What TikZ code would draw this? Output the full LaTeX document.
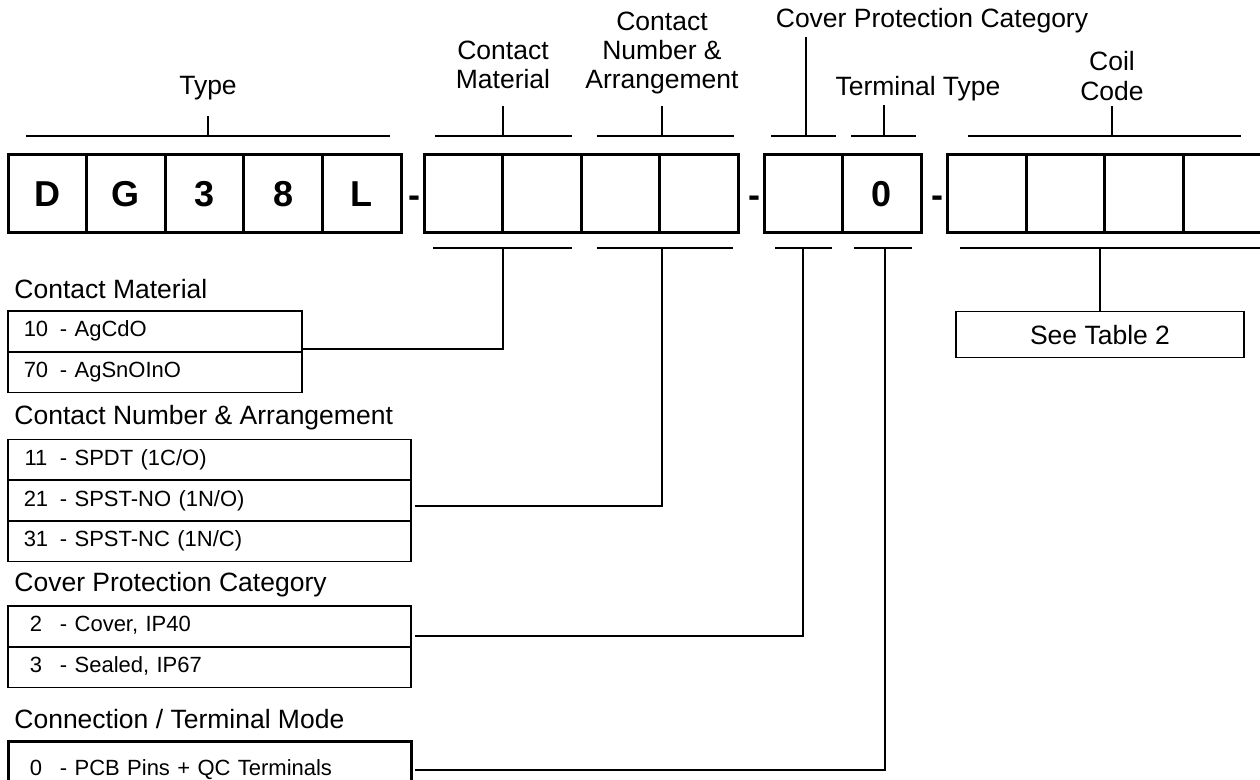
\documentclass[tikz,border=0pt]{standalone}
\usepackage{fontspec}
\setmainfont{Liberation Sans}
\usetikzlibrary{positioning}
\newcommand{\partopt}[2]{\makebox[19pt][c]{#1}\hspace{2.5pt}- #2}
\begin{document}
\begin{tikzpicture}[x=0.5pt, y=-0.5pt,
  box/.style={draw, line width=1.5pt, outer sep=0pt, inner sep=0pt, minimum width=39.3pt, minimum height=38.75pt, font=\fontsize{18}{20}\selectfont\bfseries},
  lbl/.style={font=\fontsize{13.25}{14.65}\selectfont, align=center, inner sep=0pt, text depth=0pt, anchor=south},
  head/.style={font=\fontsize{13.25}{14.65}\selectfont, inner sep=0pt, anchor=base west},
  row/.style={draw, line width=0.75pt, outer sep=0pt, inner xsep=4.5pt, inner ysep=0pt, text width=#1, align=left, minimum height=20.4pt, text height=8pt, text depth=2.4pt, anchor=north west, font=\fontsize{11}{13}\selectfont},
  brk/.style={line width=1pt},
  wire/.style={line width=1pt}]
 \useasboundingbox (0,0) rectangle (1260,780);
 % part number boxes
 \foreach \c [count=\i] in {D,G,3,8,L}
     \node[box] (t\i) at ({8+78.6*(\i-0.5)},193.75) {\c};
 \foreach \i in {1,2}
 {
     \node[box] (m\i) at ({424+78.6*(\i-0.5)},193.75) {};
     \node[box] (n\i) at ({581.2+78.6*(\i-0.5)},193.75) {};
 }
 \node[box] (p1) at (803.3,193.75) {};
 \node[box] (q1) at (881.9,193.75) {0};
 \foreach \i in {1,...,4}
     \node[box] (c\i) at ({947.5+78.6*(\i-0.5)},193.75) {};
 \foreach \x [count=\i] in {414,754.5,937}
     \node[font=\fontsize{18}{20}\selectfont\bfseries, anchor=base, inner sep=0pt] (d\i) at (\x,208) {-};
 % brackets above
 \foreach \n/\l/\r/\t/\h in {type/26/390/208/116, cm/435/572/503/106, cna/597/734/662/106, cpc/771/836/806/37, tt/851/916/884/105, coil/968/1241/1112/106}
 {
     \draw[brk] (\l,136) -- (\r,136);
     \draw[brk] (\t,136) -- (\t,\h) coordinate (\n-t);
 }
 % brackets below
 \foreach \n/\l/\r/\t in {cm/433/572/503, cna/597/733/662, cpc/775/832/803, tt/854/912/885, coil/960/1262/1100}
 {
     \draw[brk] (\l,248) -- (\r,248);
     \coordinate (\n-b) at (\t,248);
 }
 \node[lbl, above=10.75pt of type-t] (typelbl) {Type};
 \node[lbl, above=8.35pt of cm-t] (cmlbl) {Contact\\Material};
 \node[lbl, above=8.35pt of cna-t] (cnalbl) {Contact\\Number \&\\Arrangement};
 \node[lbl, above=4.35pt of cpc-t, xshift=63pt] (cpclbl) {Cover Protection Category};
 \node[lbl, above=4.3pt of tt-t, xshift=17pt] (ttlbl) {Terminal Type};
 \node[lbl, above=2.65pt of coil-t] (coillbl) {Coil\\Code};
 % option tables
 \node[head] (cmh) at (14,299) {Contact Material};
 \node[row=138pt] (cm10) at (8,311) {\partopt{10}{AgCdO}};
 \node[row=138pt, below=0pt of cm10] (cm70) {\partopt{70}{AgSnOInO}};
 \node[head] (cnah) at (14,425) {Contact Number \& Arrangement};
 \node[row=192.5pt] (cna11) at (8,439.3) {\partopt{11}{SPDT (1C/O)}};
 \node[row=192.5pt, below=0pt of cna11] (cna21) {\partopt{21}{SPST-NO (1N/O)}};
 \node[row=192.5pt, below=0pt of cna21] (cna31) {\partopt{31}{SPST-NC (1N/C)}};
 \node[head] (cpch) at (14,592) {Cover Protection Category};
 \node[row=192.5pt] (cpc2) at (8,606) {\partopt{2}{Cover, IP40}};
 \node[row=192.5pt, below=0pt of cpc2] (cpc3) {\partopt{3}{Sealed, IP67}};
 \node[head] (tmh) at (14,729) {Connection / Terminal Mode};
 \node[row=192.5pt, line width=1.5pt, minimum height=28pt] (tm0) at (8,742) {\partopt{0}{PCB Pins + QC Terminals}};
 \node[draw, line width=0.75pt, minimum width=144pt, minimum height=23pt, inner sep=0pt, font=\fontsize{13.25}{14.65}\selectfont] (seetab) at (1100,334.7) {See Table 2};
 % connectors
 \draw[wire] (cm-b) |- ([yshift=1.5pt]cm10.south east);
 \draw[wire] (cna-b) |- ([xshift=2pt, yshift=-3pt]cna21.east);
 \draw[wire] (cpc-b) |- ([xshift=2pt, yshift=-5pt]cpc2.east);
 \draw[wire, line width=1.2pt] (tt-b) |- ([xshift=2pt]tm0.east);
 \draw[wire] (coil-b) -- (seetab);
\end{tikzpicture}
\end{document}
